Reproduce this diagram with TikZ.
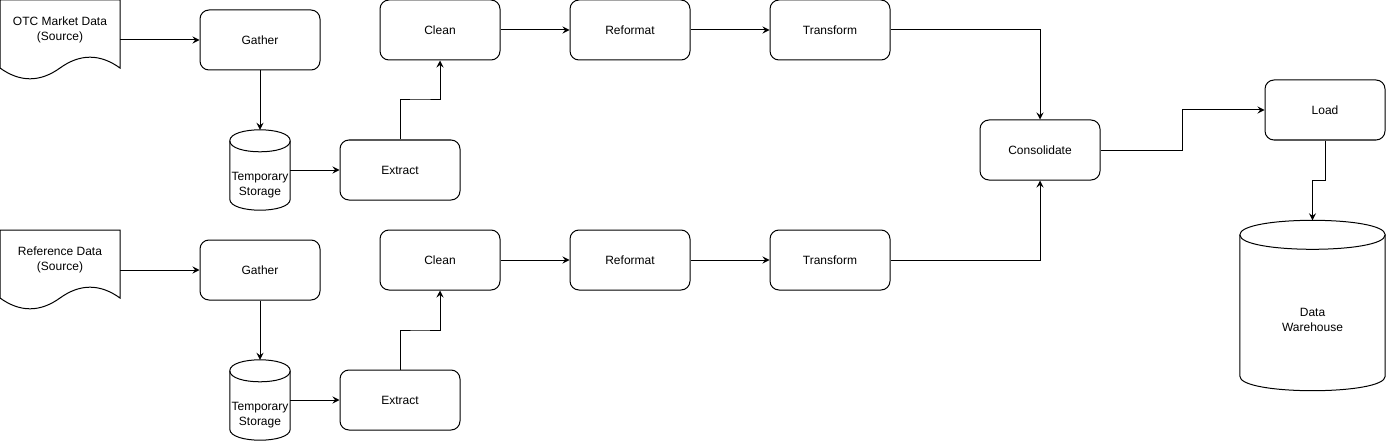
\documentclass[tikz,border=0pt]{standalone}
\usepackage{fontspec}
\setmainfont{Liberation Sans}
\usetikzlibrary{arrows.meta,calc,positioning}
\tikzset{
    proc/.style={rectangle, rounded corners=9pt, draw=black, fill=white, line width=1pt, minimum width=120pt, minimum height=60pt, inner sep=0pt, font=\fontsize{12}{14.4}\selectfont},
    docbox/.style={rectangle, minimum width=120pt, minimum height=80pt, inner sep=0pt},
    dbbox/.style={rectangle, inner sep=0pt},
    lbl/.style={align=center, inner sep=0pt, font=\fontsize{12}{15}\selectfont},
    outline/.style={line width=1pt, black},
    flow/.style={line width=1pt, black, -{Stealth[length=7pt, width=7pt, inset=2.5pt]}},
}
% cylinder outline round a node: #1 node, #2 half height of the end ellipse
\newcommand{\dbshape}[2]{%
    \draw[outline] ($(#1.north west)+(0,#2)$)
        .. controls ($(#1.north west)+(0,{-#2/3})$) and ($(#1.north east)+(0,{-#2/3})$) .. ($(#1.north east)+(0,#2)$)
        .. controls ($(#1.north east)+(0,{7*#2/3})$) and ($(#1.north west)+(0,{7*#2/3})$) .. ($(#1.north west)+(0,#2)$);
    \draw[outline] ($(#1.north west)+(0,#2)$) -- ($(#1.south west)+(0,-#2)$)
        .. controls ($(#1.south west)+(0,{#2/3})$) and ($(#1.south east)+(0,{#2/3})$) .. ($(#1.south east)+(0,-#2)$)
        -- ($(#1.north east)+(0,#2)$);
}

\begin{document}
\begin{tikzpicture}[x=1pt, y=-1pt]
    \useasboundingbox (0,0) rectangle (1386,441);
    \foreach \r/\dy/\srcname in {1/0/OTC Market Data, 2/230/Reference Data} {
        \begin{scope}[shift={(0,\dy)}]
            % Source document
            \draw[outline, fill=white] (0,0) -- (120,0) -- (120,68)
                .. controls (100,53.6) and (80,53.6) .. (60,68)
                .. controls (40,82.4) and (20,82.4) .. (0,68) -- cycle;
            \node[docbox] (src\r) at (60,40) {};
            \node[lbl] (srctxt\r) at (60,30) {\srcname\\(Source)};
            % Temporary storage
            \node[dbbox, minimum width=60pt, minimum height=80pt] (temp\r) at (260,170) {};
            \dbshape{temp\r}{11}
            \node[lbl] (temptxt\r) at (260,185) {Temporary\\Storage};
            % Process steps
            \node[proc] (gather\r) at (260,40) {Gather};
            \node[proc] (extract\r) at (400,170) {Extract};
            \node[proc] (clean\r) at (440,30) {Clean};
            \node[proc] (reformat\r) at (630,30) {Reformat};
            \node[proc] (transform\r) at (830,30) {Transform};
        \end{scope}
        % Flow along the row
        \draw[flow] (src\r) -- (gather\r);
        \draw[flow] (gather\r) -- (temp\r);
        \draw[flow] (temp\r) -- (extract\r);
        \draw[flow] (extract\r.north) |- ($(extract\r.north)!.5!(clean\r.south)$) -| (clean\r.south);
        \draw[flow] (clean\r) -- (reformat\r);
        \draw[flow] (reformat\r) -- (transform\r);
    }
    % Merge and load
    \node[proc] (consol) at (1040,150) {Consolidate};
    \node[proc] (load) at (1325,110) {Load};
    \node[dbbox, minimum width=145pt, minimum height=170pt] (dwh) at (1312.5,305.5) {};
    \dbshape{dwh}{14.5}
    \node[lbl] (dwhtxt) at (1312.5,319.5) {Data\\Warehouse};
    \draw[flow] (transform1.east) -| (consol.north);
    \draw[flow] (transform2.east) -| (consol.south);
    \draw[flow] (consol.east) -| ($(consol.east)!.5!(load.west)$) |- (load.west);
    \draw[flow] (load.south) |- ($(load.south)!.5!(dwh.north)$) -| (dwh.north);
\end{tikzpicture}
\end{document}
